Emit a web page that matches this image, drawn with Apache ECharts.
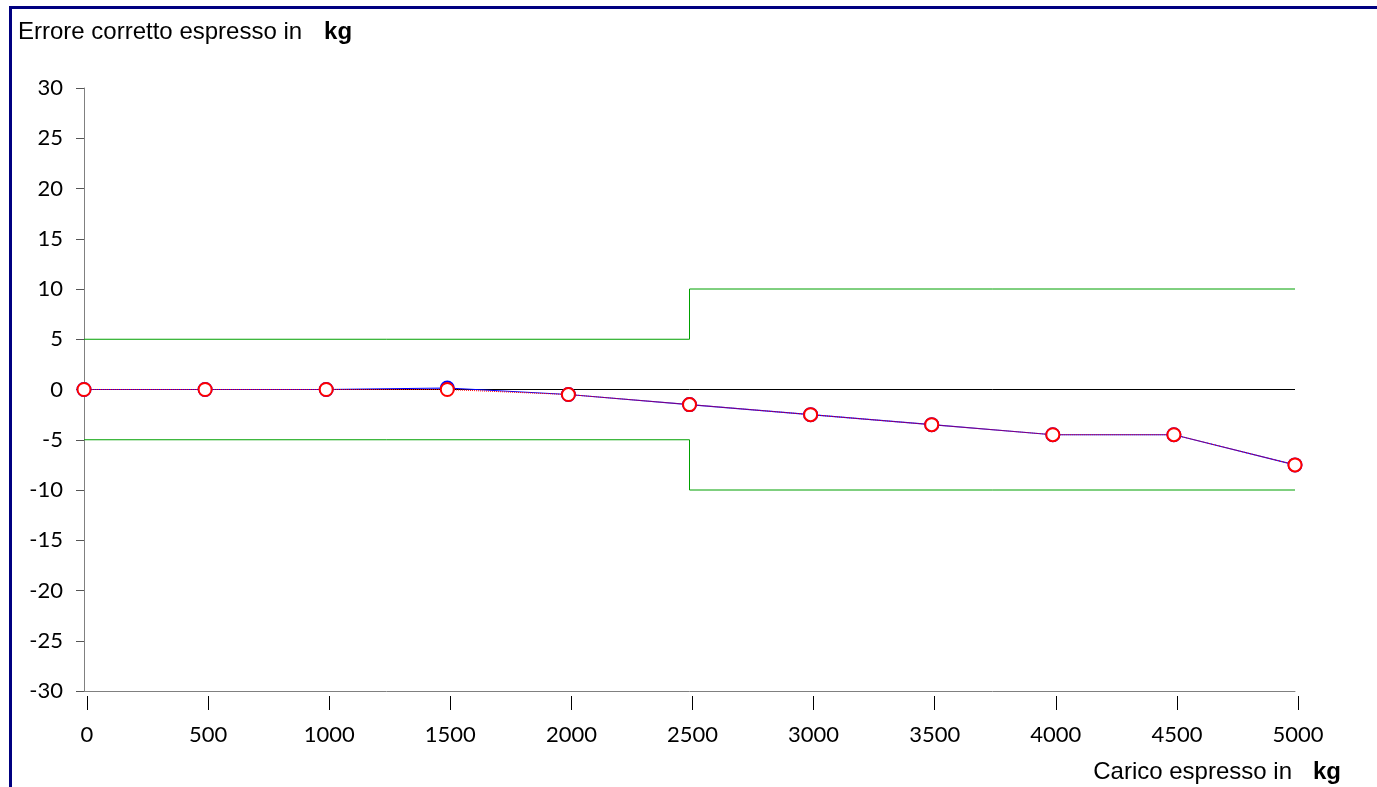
<!DOCTYPE html>
<html>
<head>
<meta charset="utf-8">
<script src="https://cdn.jsdelivr.net/npm/echarts@6/dist/echarts.min.js"></script>
<style>html,body{margin:0;padding:0;background:#fff}#c{width:1377px;height:787px}</style>
</head>
<body>
<div id="c"></div>
<script>
const loads = [0, 500, 1000, 1500, 2000, 2500, 3000, 3500, 4000, 4500, 5000];
const measuredError = [0, 0, 0, 0.15, -0.5, -1.5, -2.5, -3.5, -4.5, -4.5, -7.5];
const correctedError = [0, 0, 0, 0, -0.5, -1.5, -2.5, -3.5, -4.5, -4.5, -7.5];
const upperLimit = [[0, 5], [2500, 5], [2500, 10], [5000, 10]];
const lowerLimit = [[0, -5], [2500, -5], [2500, -10], [5000, -10]];
const zeroLine = [[0, 0], [5000, 0]];
const yTitle = 'Errore corretto espresso in';
const xTitle = 'Carico espresso in';
const unit = 'kg';

const chart = echarts.init(document.getElementById('c'));
const tickFont = { fontFamily: 'Lato', fontSize: 22, color: '#000' };
chart.setOption({
  animation: false,
  backgroundColor: '#fff',
  grid: [{ left: 84, right: 82, top: 88, bottom: 96 },
         { left: 87, right: 79, top: 88, bottom: 96 }],
  xAxis: [{
    type: 'value', min: 0, max: 5000, interval: 500, gridIndex: 0,
    axisLine: { show: true, onZero: false, lineStyle: { color: '#808080', width: 1 } },
    axisTick: { show: false }, axisLabel: { show: false }, splitLine: { show: false }
  }, {
    type: 'value', min: 0, max: 5000, interval: 500, position: 'bottom', offset: 5, gridIndex: 1,
    axisLine: { show: false, onZero: false },
    axisTick: { show: true, length: 14, lineStyle: { color: '#000', width: 1 } },
    axisLabel: Object.assign({ margin: 28, formatter: v => String(v) }, tickFont),
    splitLine: { show: false }
  }],
  yAxis: [{
    type: 'value', min: -30, max: 30, interval: 5, gridIndex: 0,
    axisLine: { show: true, onZero: false, lineStyle: { color: '#808080', width: 1 } },
    axisTick: { show: true, length: 8, lineStyle: { color: '#555' } },
    axisLabel: Object.assign({ margin: 21 }, tickFont),
    splitLine: { show: false }
  }, {
    type: 'value', min: -30, max: 30, gridIndex: 1, show: false
  }],
  series: [
    { type: 'line', data: zeroLine, symbol: 'none', lineStyle: { color: '#000', width: 1 }, silent: true, z: 1 },
    { type: 'line', data: upperLimit, symbol: 'none', lineStyle: { color: '#00a000', width: 1 }, z: 2 },
    { type: 'line', data: lowerLimit, symbol: 'none', lineStyle: { color: '#00a000', width: 1 }, z: 2 },
    { type: 'line', data: loads.map((x, i) => [x, measuredError[i]]), symbol: 'emptyCircle', symbolSize: 13,
      itemStyle: { color: '#0000ff', borderWidth: 1 }, lineStyle: { color: '#0000ff', width: 1.2 }, z: 3 },
    { type: 'line', data: loads.map((x, i) => [x, correctedError[i]]), symbol: 'emptyCircle', symbolSize: 13,
      itemStyle: { color: '#ff0000', borderWidth: 1 }, lineStyle: { color: '#ff0000', width: 1, type: 'dotted' }, z: 4 }
  ],
  graphic: [
    { type: 'rect', shape: { x: 9, y: 6, width: 1368, height: 3 }, style: { fill: '#000080' } },
    { type: 'rect', shape: { x: 9, y: 6, width: 3, height: 781 }, style: { fill: '#000080' } },
    { type: 'text', left: 18, top: 20, style: {
      text: '{n|' + yTitle + '}{b|' + unit + '}',
      rich: { n: { fontFamily: 'Liberation Sans', fontSize: 24, fill: '#000' },
              b: { fontFamily: 'Liberation Sans', fontSize: 24, fontWeight: 'bold', fill: '#000', padding: [0, 0, 0, 22] } } } },
    { type: 'text', right: 36, top: 760, style: {
      text: '{n|' + xTitle + '}{b|' + unit + '}',
      rich: { n: { fontFamily: 'Liberation Sans', fontSize: 24, fill: '#000' },
              b: { fontFamily: 'Liberation Sans', fontSize: 24, fontWeight: 'bold', fill: '#000', padding: [0, 0, 0, 21] } } } }
  ]
});
</script>
</body>
</html>
